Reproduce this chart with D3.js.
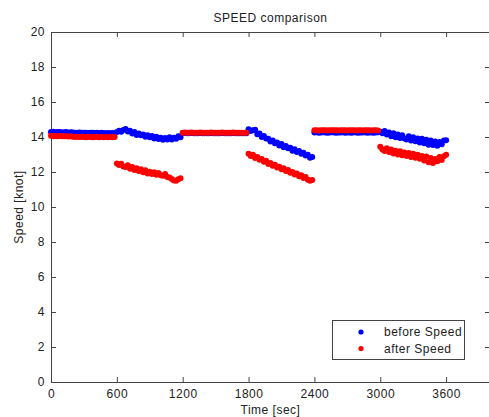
<!DOCTYPE html>
<html>
<head>
<meta charset="utf-8">
<script src="https://cdn.jsdelivr.net/npm/d3@7"></script>
<style>
  body { margin: 0; background: #fff; }
  text { font-family: "Liberation Sans", Arial, sans-serif; font-size: 12px; letter-spacing: 0.5px; fill: #222; }
  .axis path, .axis line { stroke: #444; }
</style>
</head>
<body>
<div id="chart"></div>
<script>
// sample times, one reading every 20 sec from 0 to 3600
const timeSec = d3.range(0, 3620, 20);

// "before Speed" readings [knot]
const beforeSpeed = [
  // 0 - 580
  14.28, 14.3, 14.27, 14.29, 14.28, 14.26, 14.27, 14.28, 14.25, 14.27, 14.26, 14.25, 14.24, 14.26, 14.25,
  14.24, 14.25, 14.23, 14.24, 14.25, 14.23, 14.24, 14.22, 14.24, 14.23, 14.22, 14.23, 14.22, 14.23, 14.22,
  // 600 - 1180
  14.28, 14.36, 14.3, 14.4, 14.46, 14.32, 14.36, 14.2, 14.28, 14.12, 14.2, 14.1, 14.14, 14.02, 14.1,
  13.98, 14.06, 13.92, 14.02, 13.88, 13.96, 13.84, 13.94, 13.86, 13.98, 13.86, 13.96, 13.9, 14.04, 13.98,
  // 1200 - 1780
  14.22, 14.23, 14.21, 14.22, 14.23, 14.22, 14.21, 14.22, 14.23, 14.22, 14.22, 14.21, 14.22, 14.23, 14.22,
  14.21, 14.22, 14.22, 14.23, 14.21, 14.22, 14.22, 14.21, 14.23, 14.22, 14.22, 14.21, 14.22, 14.22, 14.21,
  // 1800 - 2380
  14.45, 14.34, 14.38, 14.42, 14.16, 14.2, 14.0, 14.06, 13.92, 13.9, 13.74, 13.8, 13.64, 13.68, 13.52,
  13.6, 13.42, 13.48, 13.36, 13.38, 13.22, 13.3, 13.14, 13.2, 13.04, 13.1, 12.94, 12.98, 12.82, 12.86,
  // 2400 - 2980
  14.26, 14.27, 14.25, 14.26, 14.27, 14.26, 14.25, 14.26, 14.27, 14.26, 14.25, 14.26, 14.26, 14.27, 14.25,
  14.26, 14.26, 14.25, 14.27, 14.26, 14.25, 14.26, 14.26, 14.27, 14.25, 14.26, 14.26, 14.25, 14.26, 14.27,
  // 3000 - 3600
  14.3, 14.22, 14.34, 14.14, 14.26, 14.05, 14.22, 13.98, 14.14, 13.94, 14.1, 13.92, 13.86, 14.04, 13.8,
  13.98, 13.76, 13.92, 13.68, 13.9, 13.64, 13.84, 13.56, 13.8, 13.54, 13.74, 13.5, 13.72, 13.58, 13.8, 13.82
];

// "after Speed" readings [knot]
const afterSpeed = [
  // 0 - 580
  14.07, 14.05, 14.06, 14.04, 14.06, 14.05, 14.04, 14.05, 14.03, 14.04, 14.02, 14.0, 14.01, 14.0, 14.02,
  14.0, 13.99, 14.01, 14.0, 13.99, 14.0, 14.01, 13.99, 14.0, 13.98, 14.0, 13.99, 14.0, 13.99, 14.0,
  // 600 - 1180
  12.48, 12.4, 12.47, 12.32, 12.28, 12.38, 12.18, 12.28, 12.12, 12.22, 12.06, 12.16, 11.98, 12.1, 11.92,
  12.02, 11.88, 11.98, 11.84, 11.94, 11.82, 11.78, 11.88, 11.72, 11.68, 11.6, 11.52, 11.5, 11.58, 11.64,
  // 1200 - 1780
  14.25, 14.26, 14.24, 14.25, 14.26, 14.25, 14.24, 14.25, 14.26, 14.25, 14.25, 14.24, 14.25, 14.26, 14.25,
  14.24, 14.25, 14.25, 14.26, 14.24, 14.25, 14.25, 14.24, 14.26, 14.25, 14.25, 14.24, 14.25, 14.25, 14.24,
  // 1800 - 2380
  13.05, 12.92, 12.98, 12.8, 12.86, 12.7, 12.74, 12.58, 12.64, 12.46, 12.52, 12.36, 12.42, 12.26, 12.3,
  12.16, 12.22, 12.06, 12.12, 11.96, 12.0, 11.86, 11.92, 11.76, 11.82, 11.66, 11.72, 11.56, 11.5, 11.54,
  // 2400 - 2980
  14.38, 14.39, 14.37, 14.38, 14.39, 14.38, 14.37, 14.38, 14.39, 14.38, 14.38, 14.37, 14.38, 14.39, 14.38,
  14.37, 14.38, 14.38, 14.39, 14.37, 14.38, 14.38, 14.37, 14.39, 14.38, 14.38, 14.37, 14.38, 14.38, 14.37,
  // 3000 - 3600
  13.45, 13.28, 13.2, 13.36, 13.14, 13.28, 13.06, 13.22, 13.0, 13.18, 12.96, 13.12, 12.92, 13.08, 12.86,
  13.04, 12.82, 12.98, 12.76, 12.92, 12.66, 12.88, 12.56, 12.8, 12.52, 12.74, 12.62, 12.86, 12.68, 12.9, 12.98
];

const xTicks = [0, 600, 1200, 1800, 2400, 3000, 3600];
const yTicks = [0, 2, 4, 6, 8, 10, 12, 14, 16, 18, 20];
const seriesNames = ["before Speed", "after Speed"];
const seriesColors = ["#0000ff", "#ff0000"];

const width = 489, height = 417;
const margin = { top: 32, right: -1, bottom: 35, left: 51 };

const svg = d3.select("#chart").append("svg")
  .attr("width", width)
  .attr("height", height);

const x = d3.scaleLinear().domain([0, 4000])
  .range([margin.left, width - margin.right]);
const y = d3.scaleLinear().domain([0, 20])
  .range([height - margin.bottom, margin.top]);

// plot box (MATLAB style: ticks on all four sides, pointing inward)
svg.append("g").attr("class", "axis")
  .attr("transform", `translate(0,${y(0)})`)
  .call(d3.axisBottom(x).tickValues(xTicks).tickFormat(d3.format("d"))
    .tickSize(-5).tickPadding(7).tickSizeOuter(0));
svg.append("g").attr("class", "axis")
  .attr("transform", `translate(0,${y(20)})`)
  .call(d3.axisTop(x).tickValues(xTicks).tickSize(-5).tickSizeOuter(0).tickFormat(""));
svg.append("g").attr("class", "axis")
  .attr("transform", `translate(${x(0)},0)`)
  .call(d3.axisLeft(y).tickValues(yTicks).tickSize(-5).tickPadding(6).tickSizeOuter(0));
svg.append("g").attr("class", "axis")
  .attr("transform", `translate(${x(4000)},0)`)
  .call(d3.axisRight(y).tickValues(yTicks).tickSize(-5).tickSizeOuter(0).tickFormat(""));
svg.selectAll(".axis text").style("font-size", "12px").attr("fill", "#222");

// dots
const series = [beforeSpeed, afterSpeed];
series.forEach((vals, i) => {
  svg.append("g").selectAll("circle")
    .data(vals)
    .join("circle")
    .attr("cx", (d, j) => x(timeSec[j]))
    .attr("cy", d => y(d))
    .attr("r", 3)
    .attr("fill", seriesColors[i]);
});

// titles
svg.append("text")
  .attr("x", (x(0) + x(4000)) / 2).attr("y", 22)
  .attr("text-anchor", "middle")
  .text("SPEED comparison");
svg.append("text")
  .attr("x", (x(0) + x(4000)) / 2).attr("y", 414)
  .attr("text-anchor", "middle")
  .text("Time [sec]");
svg.append("text")
  .attr("transform", `translate(23,${(y(0) + y(20)) / 2}) rotate(-90)`)
  .attr("text-anchor", "middle")
  .text("Speed [knot]");

// legend
const legend = svg.append("g");
legend.append("rect")
  .attr("x", 332.5).attr("y", 320.5)
  .attr("width", 132).attr("height", 39)
  .attr("fill", "#fff").attr("stroke", "#444");
seriesNames.forEach((name, i) => {
  legend.append("circle")
    .attr("cx", 361).attr("cy", 332 + i * 16.5)
    .attr("r", 2.6).attr("fill", seriesColors[i]);
  legend.append("text")
    .attr("x", 384).attr("y", 336 + i * 16.5)
    .text(name);
});
</script>
</body>
</html>
